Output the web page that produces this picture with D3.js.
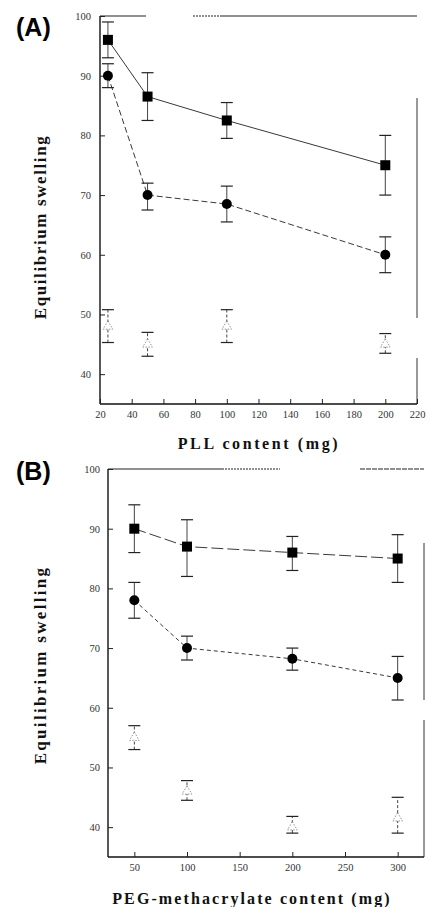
<!DOCTYPE html>
<html>
<head>
<meta charset="utf-8">
<script src="https://cdn.jsdelivr.net/npm/d3@7"></script>
<style>
  html, body { margin: 0; padding: 0; background: #fff; }
  svg { display: block; }
  .tick text { font-family: "Liberation Serif", "DejaVu Serif", serif; font-size: 10.5px; fill: #333; }
  .domain { stroke: #111; stroke-width: 1.4; }
  .tick line { stroke: #222; stroke-width: 1; }
</style>
</head>
<body>
<script>
// Panel A: swelling versus PLL content
const pllContent = [25, 50, 100, 200];
const pllSquare = [96, 86.5, 82.5, 75];
const pllSquareLo = [93, 82.5, 79.5, 70];
const pllSquareHi = [99, 90.5, 85.5, 80];
const pllCircle = [90, 70, 68.5, 60];
const pllCircleLo = [88, 67.5, 65.5, 57];
const pllCircleHi = [92, 72, 71.5, 63];
const pllTriangle = [48, 45, 48, 45];
const pllTriangleLo = [45.3, 43, 45.3, 43.5];
const pllTriangleHi = [50.8, 47, 50.8, 46.8];
const pllTicks = [20, 40, 60, 80, 100, 120, 140, 160, 180, 200, 220];

// Panel B: swelling versus PEG-methacrylate content
const pegContent = [50, 100, 200, 300];
const pegSquare = [90, 87, 86, 85];
const pegSquareLo = [86, 82, 83, 81];
const pegSquareHi = [94, 91.5, 88.7, 89];
const pegCircle = [78, 70, 68.2, 65];
const pegCircleLo = [75, 68, 66.3, 61.3];
const pegCircleHi = [81, 72, 70, 68.6];
const pegTriangle = [55, 46, 40, 41.5];
const pegTriangleLo = [53, 44.5, 39, 39];
const pegTriangleHi = [57, 47.8, 41.8, 45];
const pegTicks = [50, 100, 150, 200, 250, 300];

const swellingTicks = [40, 50, 60, 70, 80, 90, 100];

const svg = d3.select("body").append("svg")
  .attr("width", 429).attr("height", 907);

function series(xs, ys, lo, hi) {
  return xs.map((x, i) => ({ x, y: ys[i], lo: lo[i], hi: hi[i] }));
}

function drawPanel(cfg) {
  const g = svg.append("g");
  const x = d3.scaleLinear().domain(cfg.xDomain).range([cfg.left, cfg.right]);
  const y = d3.scaleLinear().domain([35, 100]).range([cfg.bottom, cfg.top]);

  // partial frame lines along top and right (as printed)
  cfg.topSegs.forEach(s => {
    g.append("line")
      .attr("x1", s[0]).attr("x2", s[1])
      .attr("y1", cfg.top).attr("y2", cfg.top)
      .attr("stroke", "#222").attr("stroke-width", 1.2)
      .attr("stroke-dasharray", s[2] || null);
  });
  cfg.rightSegs.forEach(s => {
    g.append("line")
      .attr("x1", cfg.right).attr("x2", cfg.right)
      .attr("y1", s[0]).attr("y2", s[1])
      .attr("stroke", "#333").attr("stroke-width", 1);
  });

  // axes with inward ticks
  const yAxis = d3.axisLeft(y).tickValues(swellingTicks)
    .tickSizeInner(-5).tickSizeOuter(0).tickPadding(cfg.yPad);
  g.append("g").attr("transform", `translate(${cfg.left},0)`).call(yAxis)
    .call(a => a.select(".domain").attr("d", `M0,${cfg.top}V${cfg.bottom}`));

  const xAxis = d3.axisBottom(x).tickValues(cfg.xTicks)
    .tickSizeInner(-5).tickSizeOuter(0).tickPadding(7);
  g.append("g").attr("transform", `translate(0,${cfg.bottom})`).call(xAxis)
    .call(a => a.select(".domain").attr("d", `M${cfg.left},0H${cfg.right}`));

  const tri = series(cfg.xs, cfg.tri, cfg.triLo, cfg.triHi);
  const cir = series(cfg.xs, cfg.cir, cfg.cirLo, cfg.cirHi);
  const sq = series(cfg.xs, cfg.sq, cfg.sqLo, cfg.sqHi);

  // connecting lines
  const line = d3.line().x(d => x(d.x)).y(d => y(d.y));
  g.append("path").datum(sq).attr("d", line)
    .attr("fill", "none").attr("stroke", "#222").attr("stroke-width", 0.9)
    .attr("stroke-dasharray", cfg.sqDash);
  g.append("path").datum(cir).attr("d", line)
    .attr("fill", "none").attr("stroke", "#222").attr("stroke-width", 0.9)
    .attr("stroke-dasharray", cfg.cirDash);

  // error bars
  function errorBars(data, color, dash) {
    const eb = g.append("g").selectAll("g").data(data).join("g");
    eb.append("line")
      .attr("x1", d => x(d.x)).attr("x2", d => x(d.x))
      .attr("y1", d => y(d.lo)).attr("y2", d => y(d.hi))
      .attr("stroke", color).attr("stroke-width", 1)
      .attr("stroke-dasharray", dash || null);
    [d => d.lo, d => d.hi].forEach(f => {
      eb.append("line")
        .attr("x1", d => x(d.x) - 6).attr("x2", d => x(d.x) + 6)
        .attr("y1", d => y(f(d))).attr("y2", d => y(f(d)))
        .attr("stroke", "#222").attr("stroke-width", 1.2);
    });
  }
  errorBars(tri, "#444", "3,2");
  errorBars(cir, "#444");
  errorBars(sq, "#444");

  // open triangles
  const triSym = d3.symbol().type(d3.symbolTriangle).size(40);
  g.append("g").selectAll("path").data(tri).join("path")
    .attr("d", triSym)
    .attr("transform", d => `translate(${x(d.x)},${y(d.y)})`)
    .attr("fill", "#fff").attr("stroke", "#777").attr("stroke-width", 0.8)
    .attr("stroke-dasharray", "1.5,1.5");

  // filled circles
  g.append("g").selectAll("circle").data(cir).join("circle")
    .attr("cx", d => x(d.x)).attr("cy", d => y(d.y)).attr("r", 5)
    .attr("fill", "#000");

  // filled squares
  g.append("g").selectAll("rect").data(sq).join("rect")
    .attr("x", d => x(d.x) - 5).attr("y", d => y(d.y) - 5)
    .attr("width", 10).attr("height", 10)
    .attr("fill", "#000");

  // panel letter
  g.append("text").attr("x", 16).attr("y", cfg.letterY)
    .attr("font-family", "Liberation Sans, Arial, sans-serif")
    .attr("font-weight", "bold").attr("font-size", 25)
    .attr("fill", "#000").text(cfg.letter);

  // axis titles
  g.append("text")
    .attr("transform", `translate(46,${cfg.yTitleY}) rotate(-90)`)
    .attr("text-anchor", "middle")
    .attr("font-family", "Liberation Serif, Times New Roman, serif")
    .attr("font-weight", "bold").attr("font-size", cfg.yTitleSize)
    .attr("letter-spacing", cfg.yTitleSpacing)
    .attr("fill", "#111").text("Equilibrium swelling");

  g.append("text")
    .attr("x", cfg.xTitleX).attr("y", cfg.xTitleY)
    .attr("text-anchor", "middle")
    .attr("font-family", "Liberation Serif, Times New Roman, serif")
    .attr("font-weight", "bold").attr("font-size", 16)
    .attr("letter-spacing", cfg.xTitleSpacing)
    .attr("fill", "#111").text(cfg.xTitle);
}

drawPanel({
  letter: "(A)", letterY: 36,
  left: 100, right: 417, top: 16, bottom: 404,
  xDomain: [20, 220], xTicks: pllTicks, yPad: 9,
  xs: pllContent,
  sq: pllSquare, sqLo: pllSquareLo, sqHi: pllSquareHi,
  cir: pllCircle, cirLo: pllCircleLo, cirHi: pllCircleHi,
  tri: pllTriangle, triLo: pllTriangleLo, triHi: pllTriangleHi,
  sqDash: null, cirDash: "6,3",
  topSegs: [[100, 145], [145, 148, "1,2"], [193, 222, "2,1"], [222, 417]],
  rightSegs: [[98, 318], [358, 404]],
  yTitleY: 227, yTitleSize: 17, yTitleSpacing: 1.6,
  xTitle: "PLL content (mg)", xTitleX: 259, xTitleY: 449, xTitleSpacing: 2.6
});

drawPanel({
  letter: "(B)", letterY: 480,
  left: 108, right: 424, top: 469, bottom: 857,
  xDomain: [25, 325], xTicks: pegTicks, yPad: 8,
  xs: pegContent,
  sq: pegSquare, sqLo: pegSquareLo, sqHi: pegSquareHi,
  cir: pegCircle, cirLo: pegCircleLo, cirHi: pegCircleHi,
  tri: pegTriangle, triLo: pegTriangleLo, triHi: pegTriangleHi,
  sqDash: "12,4", cirDash: "4,3",
  topSegs: [[108, 222], [222, 280, "2,1"], [360, 424, "5,1"]],
  rightSegs: [[543, 700], [720, 857]],
  yTitleY: 665, yTitleSize: 17, yTitleSpacing: 2.3,
  xTitle: "PEG-methacrylate content (mg)", xTitleX: 252, xTitleY: 904, xTitleSpacing: 2.1
});
</script>
</body>
</html>
